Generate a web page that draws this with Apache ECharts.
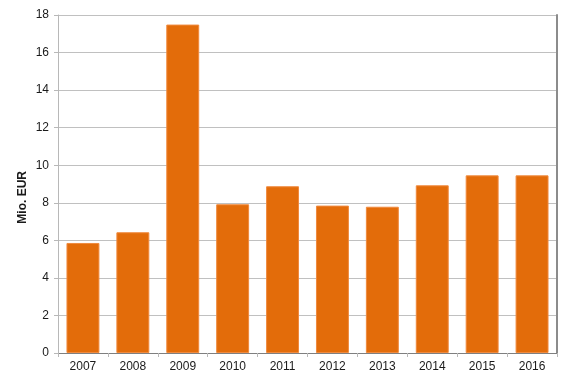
<!DOCTYPE html>
<html><head><meta charset="utf-8">
<script src="https://cdn.jsdelivr.net/npm/echarts@6/dist/echarts.min.js"></script>
<style>html,body{margin:0;padding:0;background:#fff}#c{width:572px;height:382px}</style>
</head><body><div id="c"></div>
<script>
const categories = ['2007','2008','2009','2010','2011','2012','2013','2014','2015','2016'];
const values = [5.86, 6.43, 17.49, 7.92, 8.88, 7.85, 7.79, 8.93, 9.46, 9.46];
const yTicks = [0, 2, 4, 6, 8, 10, 12, 14, 16, 18];
const yTitle = 'Mio. EUR';

const chart = echarts.init(document.getElementById('c'), null, {renderer: 'canvas'});
const font = 'Liberation Sans, Arial, sans-serif';
chart.setOption({
  animation: false,
  grid: {left: 58, right: 15, top: 15, bottom: 29},
  xAxis: [{
    type: 'category', data: categories,
    axisLine: {lineStyle: {color: '#b8b8b8', width: 1}},
    axisTick: {show: true, alignWithLabel: false, length: 4, lineStyle: {color: '#b8b8b8'}},
    axisLabel: {color: '#1a1a1a', fontFamily: font, fontSize: 12, margin: 8}
  }, {
    type: 'category', data: categories, position: 'top',
    axisLine: {lineStyle: {color: '#7f7f7f', width: 1}},
    axisTick: {show: false}, axisLabel: {show: false}
  }],
  yAxis: [{
    type: 'value', min: yTicks[0], max: yTicks[yTicks.length-1], interval: 2,
    axisLine: {show: true, lineStyle: {color: '#b8b8b8', width: 1}},
    axisTick: {show: true, length: 4, lineStyle: {color: '#b8b8b8'}},
    axisLabel: {color: '#1a1a1a', fontFamily: font, fontSize: 12, margin: 9},
    splitLine: {show: true, lineStyle: {color: '#c0c0c0', width: 1}}
  }, {
    type: 'value', min: 0, max: 18, interval: 2, position: 'right',
    axisLine: {show: true, lineStyle: {color: '#8c8c8c', width: 2}},
    axisTick: {show: false}, axisLabel: {show: false}, splitLine: {show: false}
  }],
  graphic: [{
    type: 'text', left: 17, top: 171, rotation: Math.PI/2,
    style: {text: yTitle, fontFamily: font, fontSize: 12, fontWeight: 'bold', fill: '#1a1a1a'}
  }],
  series: [{
    type: 'bar', data: values, barCategoryGap: '34%',
    itemStyle: {color: '#e36c0a', borderColor: '#f08a3e', borderWidth: 1}
  }]
});
</script></body></html>
